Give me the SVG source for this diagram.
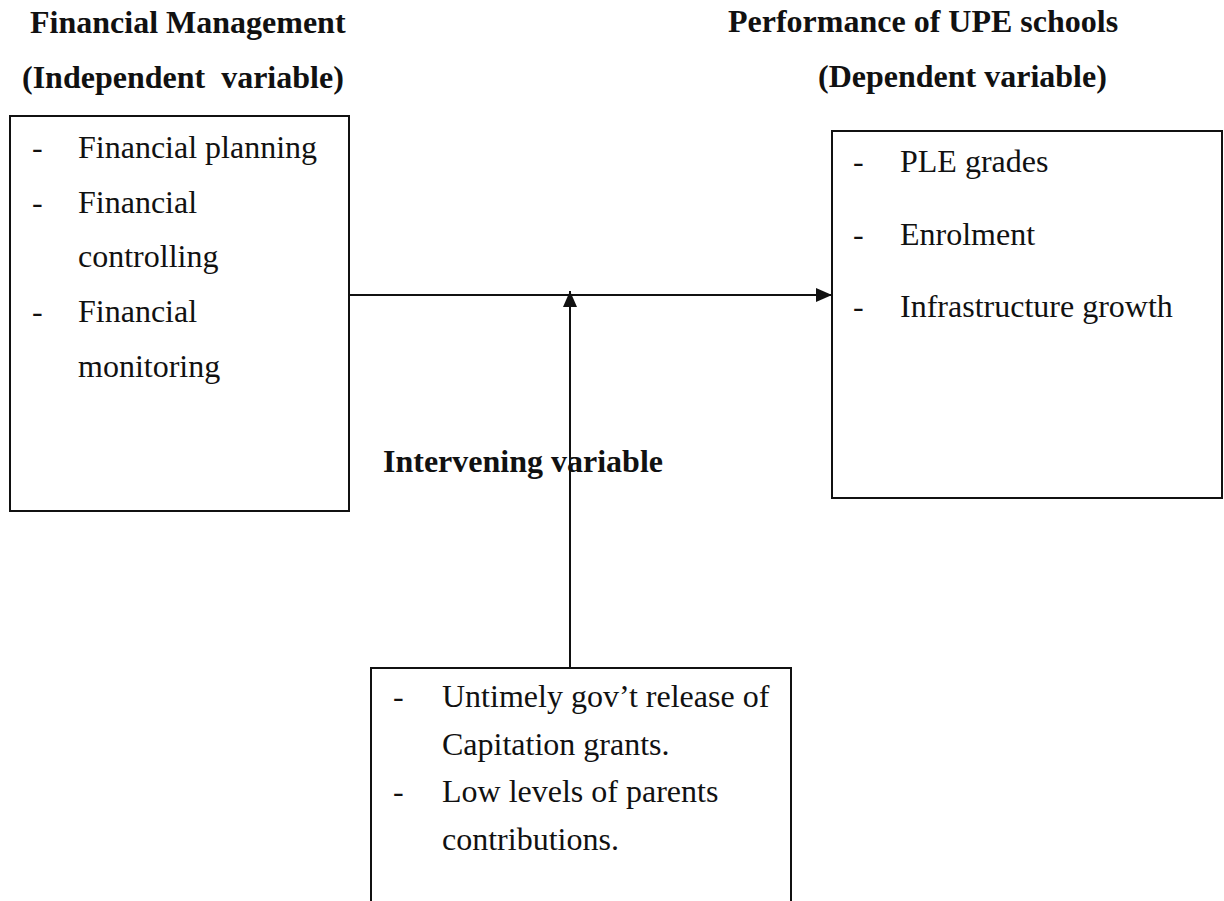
<svg xmlns="http://www.w3.org/2000/svg" width="1224" height="901" viewBox="0 0 1224 901">
<style>
  .h { font-family: "Liberation Serif", "Times New Roman", serif; font-weight: bold; font-size: 32px; fill: #111; }
  .t { font-family: "Liberation Serif", "Times New Roman", serif; font-size: 32px; fill: #111; }
  .box { fill: none; stroke: #111; stroke-width: 2; }
  .ln { stroke: #111; stroke-width: 2; fill: none; }
</style>
<defs>
  <marker id="arr" viewBox="0 0 16 14" refX="16" refY="7" markerWidth="16" markerHeight="14" markerUnits="userSpaceOnUse" orient="auto">
    <path d="M0,0 L16,7 L0,14 Z" fill="#111"/>
  </marker>
</defs>
<rect width="1224" height="901" fill="#fff"/>

<g id="headings">
  <text class="h" x="30" y="33">Financial Management</text>
  <text class="h" x="22" y="88" xml:space="preserve">(Independent  variable)</text>
  <text class="h" x="728" y="32">Performance of UPE schools</text>
  <text class="h" x="818" y="87">(Dependent variable)</text>
</g>

<g id="independent">
  <rect class="box" x="10" y="116" width="339" height="395"/>
  <text class="t" x="32" y="158">-</text>
  <text class="t" x="78" y="158">Financial planning</text>
  <text class="t" x="32" y="213">-</text>
  <text class="t" x="78" y="213">Financial</text>
  <text class="t" x="78" y="267">controlling</text>
  <text class="t" x="32" y="322">-</text>
  <text class="t" x="78" y="322">Financial</text>
  <text class="t" x="78" y="377">monitoring</text>
</g>

<g id="dependent">
  <rect class="box" x="832" y="131" width="390" height="367"/>
  <text class="t" x="853" y="172">-</text>
  <text class="t" x="900" y="172">PLE grades</text>
  <text class="t" x="853" y="245">-</text>
  <text class="t" x="900" y="245">Enrolment</text>
  <text class="t" x="853" y="317">-</text>
  <text class="t" x="900" y="317">Infrastructure growth</text>
</g>

<g id="intervening-label">
  <text class="h" x="383" y="472">Intervening variable</text>
</g>

<g id="intervening">
  <path class="box" d="M371,910 L371,668 L791,668 L791,910"/>
  <text class="t" x="393" y="707">-</text>
  <text class="t" x="442" y="707">Untimely gov’t release of</text>
  <text class="t" x="442" y="755">Capitation grants.</text>
  <text class="t" x="393" y="802">-</text>
  <text class="t" x="442" y="802">Low levels of parents</text>
  <text class="t" x="442" y="850">contributions.</text>
</g>

<g id="connectors">
  <line class="ln" x1="349" y1="295" x2="832" y2="295" marker-end="url(#arr)"/>
  <line class="ln" x1="570" y1="668" x2="570" y2="291" marker-end="url(#arr)"/>
</g>
</svg>
